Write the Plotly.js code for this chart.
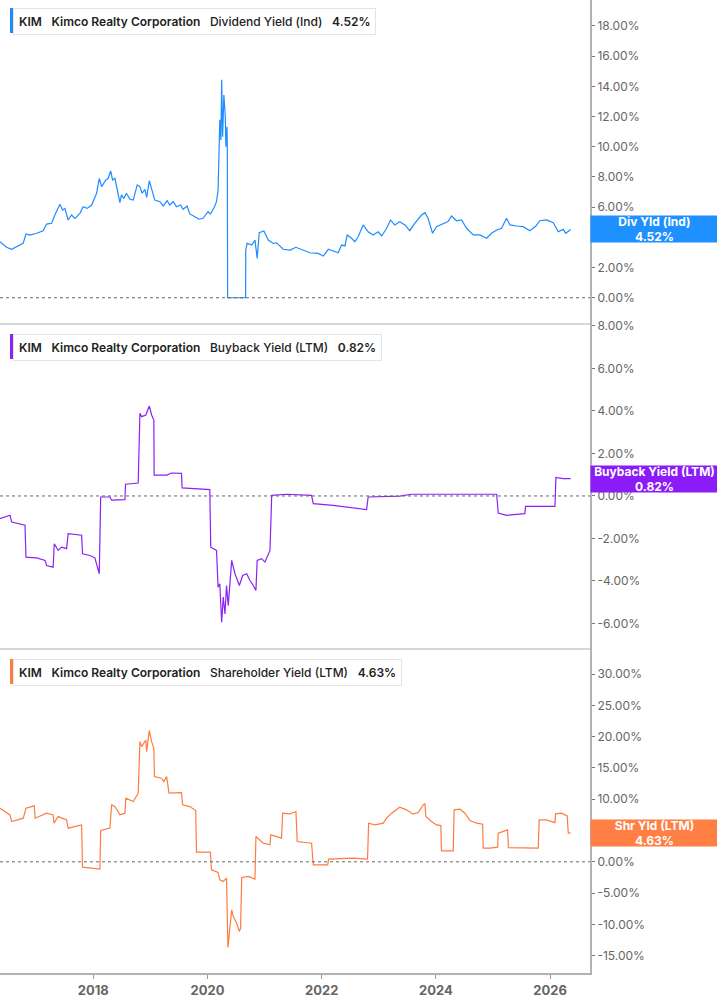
<!DOCTYPE html>
<html>
<head>
<meta charset="utf-8">
<script src="https://cdn.plot.ly/plotly-3.0.1.min.js"></script>
<style>
  html, body { margin: 0; padding: 0; background: #fff; }
  #chart { width: 717px; height: 1005px; }
</style>
</head>
<body>
<div id="chart"></div>
<script>
// Dividend Yield (Ind), %
const divDates = [
  '2016-05-14','2016-06-25','2016-07-27','2016-09-07','2016-10-09','2016-10-27','2016-11-21','2017-01-04',
  '2017-02-14','2017-03-08','2017-04-09','2017-04-30','2017-05-21','2017-06-01','2017-06-18','2017-07-03',
  '2017-07-24','2017-08-15','2017-09-05','2017-10-07','2017-10-28','2017-11-23','2017-12-21','2018-01-22',
  '2018-02-08','2018-02-23','2018-03-22','2018-04-06','2018-04-22','2018-05-04','2018-05-19','2018-06-02',
  '2018-06-20','2018-06-30','2018-07-15','2018-08-01','2018-08-23','2018-09-13','2018-10-09','2018-10-26',
  '2018-11-09','2018-11-27','2018-12-08','2018-12-25','2019-01-09','2019-01-29','2019-03-03','2019-03-24',
  '2019-04-18','2019-05-05','2019-05-27','2019-06-17','2019-07-13','2019-07-29','2019-08-24','2019-09-10',
  '2019-10-12','2019-11-08','2019-12-04','2020-01-05','2020-01-20','2020-02-12','2020-02-28','2020-03-09',
  '2020-03-16','2020-03-20','2020-03-27','2020-04-01','2020-04-07','2020-04-15','2020-04-24','2020-04-28',
  '2020-05-05','2020-05-07','2020-05-09','2020-09-01','2020-09-02','2020-09-11','2020-10-10','2020-10-31',
  '2020-11-14','2020-11-27','2020-12-27','2021-01-24','2021-02-25','2021-03-18','2021-04-30','2021-06-12',
  '2021-07-20','2021-09-05','2021-10-17','2021-12-09','2022-01-11','2022-02-12','2022-03-15','2022-04-16',
  '2022-05-08','2022-05-29','2022-06-13','2022-07-11','2022-08-01','2022-08-22','2022-09-23','2022-10-25',
  '2022-11-26','2022-12-28','2023-01-19','2023-02-20','2023-03-17','2023-04-13','2023-05-15','2023-06-17',
  '2023-07-18','2023-08-19','2023-10-01','2023-10-23','2023-11-12','2023-12-11','2024-01-05','2024-02-16',
  '2024-03-19','2024-04-10','2024-05-12','2024-06-13','2024-07-16','2024-08-27','2024-10-08','2024-11-21',
  '2024-12-22','2025-01-24','2025-02-24','2025-03-28','2025-04-19','2025-05-31','2025-07-13','2025-08-24',
  '2025-10-02','2025-10-27','2025-12-09','2026-01-21','2026-02-22','2026-03-26','2026-04-11','2026-05-12'
];
const divValues = [
  3.71, 3.34, 3.21, 3.43, 3.60, 4.22, 4.15, 4.27,
  4.44, 4.88, 4.93, 5.48, 6.03, 6.19, 5.81, 5.92,
  5.15, 5.48, 5.26, 5.59, 6.03, 5.92, 6.14, 6.92,
  7.91, 7.36, 7.80, 7.91, 8.40, 7.80, 7.91, 7.25,
  6.30, 6.81, 6.59, 6.92, 6.52, 6.47, 7.47, 7.36,
  6.92, 7.18, 6.65, 7.75, 7.25, 6.47, 6.36, 6.08,
  6.43, 6.14, 6.36, 6.03, 6.14, 5.86, 6.08, 5.55,
  5.37, 5.20, 5.26, 5.70, 5.55, 5.96, 6.36, 7.14,
  10.00, 11.78, 10.45, 14.43, 10.67, 13.43, 12.00, 10.00,
  11.33, 10.00, 0, 0, 3.16, 3.60, 3.49, 3.82,
  2.61, 4.31, 4.42, 3.82, 3.60, 3.64, 3.21, 3.16,
  3.34, 3.16, 2.98, 2.94, 2.76, 3.21, 3.11, 2.98,
  3.49, 3.43, 4.16, 3.94, 3.71, 4.04, 4.82, 4.37,
  4.16, 4.37, 4.09, 4.60, 5.15, 4.82, 5.04, 4.82,
  4.44, 4.93, 5.48, 5.63, 5.26, 4.27, 4.71, 4.88,
  5.04, 5.41, 5.10, 5.15, 4.60, 4.16, 4.16, 3.94,
  4.27, 4.49, 4.60, 5.26, 4.82, 4.75, 4.71, 4.44,
  4.75, 5.10, 5.15, 4.97, 4.37, 4.53, 4.27, 4.52
];

// Buyback Yield (LTM), %
const bbDates = [
  '2016-05-14','2016-07-17','2016-07-28','2016-10-21','2016-10-27','2017-01-04','2017-02-26','2017-03-08',
  '2017-04-19','2017-04-26','2017-05-21','2017-06-12','2017-07-14','2017-07-24','2017-10-18','2017-10-24',
  '2017-12-10','2018-01-11','2018-02-08','2018-02-17','2018-04-17','2018-04-28','2018-07-22','2018-07-26',
  '2018-10-15','2018-10-26','2018-11-06','2018-12-03','2018-12-25','2019-01-09','2019-01-23','2019-01-25',
  '2019-04-15','2019-05-16','2019-07-19','2019-07-23','2020-01-16','2020-01-22','2020-02-28','2020-03-09',
  '2020-03-20','2020-04-01','2020-04-11','2020-04-22','2020-05-02','2020-05-13','2020-06-04','2020-06-25',
  '2020-07-23','2020-08-13','2020-09-08','2020-09-29','2020-10-20','2020-11-06','2020-11-14','2020-12-12',
  '2021-01-03','2021-01-24','2021-02-04','2021-02-15','2021-05-22','2021-10-28','2021-11-08','2022-03-15',
  '2022-07-21','2022-10-15','2022-10-25','2023-05-15','2023-07-29','2025-01-24','2025-02-03','2025-03-28',
  '2025-07-23','2025-07-28','2026-02-01','2026-02-07','2026-03-26','2026-05-12'
];
const bbValues = [
  -1.07, -0.91, -1.23, -1.38, -2.88, -2.91, -3.03, -3.27,
  -3.35, -2.25, -2.56, -2.41, -2.48, -1.77, -1.85, -2.72,
  -2.80, -2.91, -3.66, -0.05, -0.05, -0.20, -0.17, 0.55,
  0.61, 3.89, 3.73, 3.81, 4.23, 3.81, 3.57, 0.98,
  0.98, 1.08, 1.06, 0.38, 0.30, -2.41, -2.56, -4.29,
  -4.13, -5.94, -4.76, -5.55, -4.21, -5.16, -3.03, -3.66,
  -4.21, -3.74, -3.66, -3.98, -4.21, -4.45, -3.03, -2.95,
  -3.11, -2.72, -2.56, 0.03, 0.08, 0.03, -0.36, -0.44,
  -0.55, -0.64, -0.05, -0.01, 0.08, 0.08, -0.80, -0.91,
  -0.83, -0.49, -0.49, 0.87, 0.82, 0.82
];

// Shareholder Yield (LTM), %
const shDates = [
  '2016-05-14','2016-07-17','2016-07-28','2016-10-10','2016-10-27','2016-12-19','2016-12-25','2017-03-08',
  '2017-04-19','2017-04-24','2017-05-21','2017-07-14','2017-07-24','2017-10-18','2017-10-24','2018-02-12',
  '2018-02-17','2018-04-17','2018-04-28','2018-05-19','2018-06-20','2018-07-22','2018-07-28','2018-09-13',
  '2018-10-15','2018-10-26','2018-11-06','2018-12-03','2018-12-08','2018-12-25','2019-01-09','2019-01-23',
  '2019-01-27','2019-03-13','2019-03-28','2019-04-15','2019-04-30','2019-06-06','2019-07-19','2019-07-26',
  '2019-09-10','2019-10-18','2019-10-23','2020-01-20','2020-01-27','2020-03-09','2020-03-20','2020-04-11',
  '2020-05-02','2020-05-11','2020-05-24','2020-06-04','2020-06-14','2020-07-06','2020-07-23','2020-07-31',
  '2020-08-07','2020-09-18','2020-10-31','2020-11-06','2020-12-23','2021-02-04','2021-02-09','2021-04-19',
  '2021-04-26','2021-06-12','2021-07-20','2021-07-28','2021-10-28','2021-11-08','2022-02-08','2022-02-14',
  '2022-07-21','2022-10-21','2022-10-28','2022-12-07','2023-01-29','2023-02-20','2023-03-24','2023-05-15',
  '2023-06-27','2023-08-08','2023-09-10','2023-10-12','2023-10-23','2023-10-29','2023-12-04','2024-01-05',
  '2024-02-02','2024-02-06','2024-04-21','2024-04-27','2024-06-03','2024-07-05','2024-08-06','2024-09-18',
  '2024-10-26','2024-10-30','2024-12-12','2025-01-30','2025-02-03','2025-03-18','2025-04-04','2025-04-09',
  '2025-08-04','2025-10-17','2025-10-23','2025-12-09','2026-02-01','2026-02-05','2026-03-15','2026-04-20',
  '2026-04-27','2026-05-12'
];
const shValues = [
  8.57, 7.50, 6.43, 6.97, 8.57, 8.94, 6.97, 7.77,
  7.50, 6.17, 7.23, 6.70, 5.38, 5.90, -0.85, -1.16,
  5.00, 5.38, 9.10, 8.83, 7.50, 7.77, 10.16, 9.62,
  10.96, 19.20, 18.40, 19.47, 17.60, 20.95, 19.20, 18.14,
  13.61, 13.36, 12.81, 13.61, 10.96, 10.96, 11.06, 9.10,
  8.83, 8.19, 1.55, 1.55, -1.28, -1.70, -2.87, -3.14,
  -2.60, -13.67, -10.32, -7.66, -8.72, -9.79, -11.12, -10.58,
  -2.50, -2.34, -2.77, 4.04, 2.98, 2.71, 4.31, 3.78,
  7.77, 7.66, 8.03, 3.24, 2.98, -0.48, -0.48, 0.43,
  0.59, 0.43, 6.17, 5.90, 6.17, 6.97, 7.77, 8.73,
  8.30, 7.61, 7.87, 9.10, 9.26, 7.23, 6.43, 5.90,
  5.79, 1.76, 1.76, 8.30, 8.41, 7.77, 6.59, 6.17,
  6.02, 2.19, 2.19, 2.35, 4.58, 5.00, 5.11, 2.28,
  2.28, 2.19, 6.70, 6.70, 6.27, 7.66, 7.77, 7.34,
  4.58, 4.63
];

const divTicks = [0, 2, 4, 6, 8, 10, 12, 14, 16, 18];
const bbTicks = [-6, -4, -2, 0, 2, 4, 6, 8];
const shTicks = [-15, -10, -5, 0, 5, 10, 15, 20, 25, 30];

const panels = [
  { name: 'Dividend Yield (Ind)', short: 'Div Yld (Ind)', last: 4.52, color: '#1E8CFF', box: '#1E90FF',
    x: divDates, y: divValues, ticks: divTicks, range: [-1.74, 19.72], domain: [0.667, 1] },
  { name: 'Buyback Yield (LTM)', short: 'Buyback Yield (LTM)', last: 0.82, color: '#8A22F5', box: '#8B1CF7',
    x: bbDates, y: bbValues, ticks: bbTicks, range: [-7.2, 8.09], domain: [0.333, 0.667] },
  { name: 'Shareholder Yield (LTM)', short: 'Shr Yld (LTM)', last: 4.63, color: '#FF7B3F', box: '#FF7F45',
    x: shDates, y: shValues, ticks: shTicks, range: [-17.76, 34.0], domain: [0, 0.333] }
];

const FONT = 'Inter, "Noto Sans", sans-serif';
const plotH = 973; // pixel height of plot area
const plotW = 590;
const py = p => (plotH - p) / plotH;   // pixel y -> paper y
const px = p => p / plotW;             // pixel x -> paper x
const semi = s => '<span style="font-weight:600">' + s + '</span>';

const traces = [];
const shapes = [];
const annotations = [];
const layout = {
  width: 717,
  height: 1005,
  margin: { l: 0, r: 127, t: 0, b: 32 },
  paper_bgcolor: '#fff',
  plot_bgcolor: '#fff',
  showlegend: false,
  font: { family: FONT, color: '#666' },
  xaxis: {
    type: 'date',
    range: ['2016-05-14', '2026-09-13'],
    anchor: 'y3',
    tick0: '2018-01-01',
    dtick: 'M24',
    tickformat: '%Y',
    showgrid: false,
    zeroline: false,
    showline: true,
    linecolor: '#b3b3b3',
    linewidth: 2,
    ticks: 'outside',
    ticklen: 4,
    tickcolor: '#999',
    tickfont: { family: FONT, size: 13, color: '#666', weight: 'bold' }
  }
};

// legend boxes (pixel top of each)
const legendTop = [8, 334, 659];

panels.forEach((p, i) => {
  const yName = i === 0 ? 'y' : 'y' + (i + 1);
  const axKey = i === 0 ? 'yaxis' : 'yaxis' + (i + 1);

  traces.push({
    x: p.x,
    y: p.y,
    xaxis: 'x',
    yaxis: yName,
    type: 'scatter',
    mode: 'lines',
    line: { color: p.color, width: 1.2 },
    hoverinfo: 'skip'
  });

  layout[axKey] = {
    domain: p.domain,
    range: p.range,
    side: 'right',
    anchor: 'x',
    tickmode: 'array',
    tickvals: p.ticks,
    ticktext: p.ticks.map(v => v.toFixed(2) + '%'),
    showgrid: false,
    zeroline: false,
    showline: true,
    linecolor: '#b3b3b3',
    linewidth: 2,
    ticks: 'outside',
    ticklen: 3,
    tickcolor: '#777',
    tickfont: { family: FONT, size: 12, color: '#666' }
  };

  // dotted zero line
  shapes.push({
    type: 'line', xref: 'paper', yref: yName,
    x0: 0, x1: 1, y0: 0, y1: 0,
    line: { color: '#666', width: 1, dash: 'dot' }
  });

  // panel separator
  if (i > 0) {
    shapes.push({
      type: 'line', xref: 'paper', yref: 'paper',
      x0: 0, x1: 1, y0: p.domain[1], y1: p.domain[1],
      line: { color: '#c8c8c8', width: 1.5 }
    });
  }

  // legend box
  const top = legendTop[i];
  annotations.push({
    xref: 'paper', yref: 'paper',
    x: px(13), y: py(top),
    xanchor: 'left', yanchor: 'top',
    showarrow: false,
    align: 'left',
    text: semi('KIM') + '   ' + semi('Kimco Realty Corporation') + '   ' + p.name + '   ' + semi(p.last.toFixed(2) + '%'),
    font: { family: FONT, size: 12, color: '#222', weight: 500 },
    bgcolor: '#fff',
    bordercolor: '#e4e4e4',
    borderwidth: 1,
    borderpad: 5
  });
  shapes.push({
    type: 'rect', xref: 'paper', yref: 'paper',
    x0: px(10), x1: px(13), y0: py(top + 25), y1: py(top),
    fillcolor: p.color, line: { width: 0 }
  });

  // last value tag on the axis
  annotations.push({
    xref: 'paper', yref: yName,
    x: 1, y: p.last,
    xanchor: 'left', yanchor: 'middle',
    showarrow: false,
    width: 127, height: 26,
    align: 'center',
    text: '<b>' + p.short + '</b><br><b>' + p.last.toFixed(2) + '%</b>',
    font: { family: FONT, size: 12, color: '#fff' },
    bgcolor: p.box,
    borderpad: 0
  });
});

layout.shapes = shapes;
layout.annotations = annotations;

Plotly.newPlot('chart', traces, layout, { displayModeBar: false, staticPlot: true });
</script>
</body>
</html>
